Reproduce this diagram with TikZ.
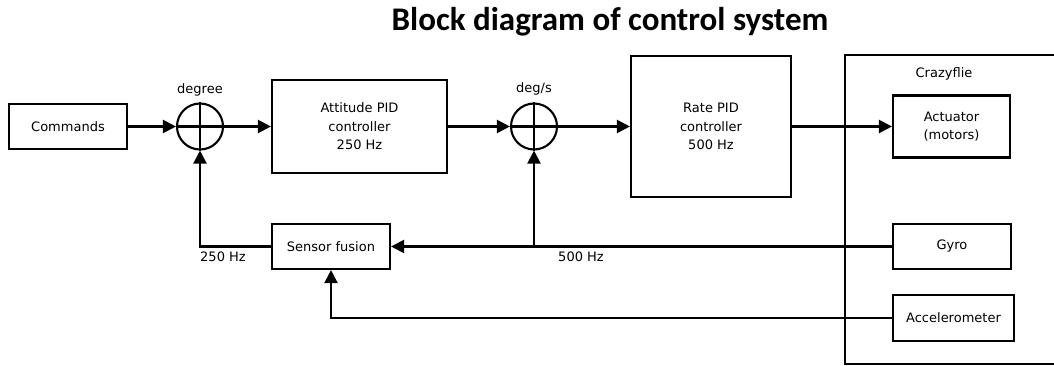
\documentclass[tikz,border=0pt]{standalone}
\usepackage{fontspec}
\setmainfont{DejaVu Sans}
\newfontfamily\titlefont{Carlito}
\usetikzlibrary{arrows.meta,positioning,calc}

\begin{document}
\begin{tikzpicture}[
  x=1pt,y=-1pt,
  font=\fontsize{13}{18.5}\selectfont,
  block/.style={draw,line width=2.1pt,align=center,inner sep=0pt},
  summer/.style={draw,circle,line width=2.1pt,minimum size=46pt,inner sep=0pt},
  fl/.style={-{Triangle[length=13pt,width=13pt]},line width=2.1pt},
  ln/.style={line width=2.1pt}
]
\useasboundingbox (0,0) rectangle (1054,366);
\node[font=\titlefont\fontsize{33}{35}\selectfont\bfseries] (title) at (610,22) {Block diagram of control system};

\node[block,minimum width=118pt,minimum height=45pt] (cmd) at (68,126.5) {Commands};
\node[summer] (s1) at (200,126.5) {};
\node (deg) at (200,90) {degree};
\node[block,minimum width=175pt,minimum height=93pt] (att) at (359.5,126.5) {Attitude PID\\controller\\250 Hz};
\node[summer] (s2) at (534,126.5) {};
\node (degs) at (534,89) {deg/s};
\node[block,minimum width=160pt,minimum height=141pt] (rate) at (711,126.5) {Rate PID\\controller\\500 Hz};

\draw[ln] (1060,55) -| (845,364) -- (1060,364);
\node (cf) at (944,74) {Crazyflie};
\node[block,minimum width=117pt,minimum height=62pt] (act) at (951.5,126.5) {Actuator\\(motors)};
\node[block,minimum width=118pt,minimum height=45pt] (gyro) at (952,246.5) {Gyro};
\node[block,minimum width=121pt,minimum height=46pt] (acc) at (953.5,318) {Accelerometer};
\node[block,minimum width=118pt,minimum height=45pt] (sf) at (331,246.5) {Sensor fusion};

\draw[ln] (s1.north) -- (s1.south) (s1.west) -- (s1.east);
\draw[ln] (s2.north) -- (s2.south) (s2.west) -- (s2.east);

\draw[fl] (cmd) -- (s1);
\draw[fl] (s1) -- (att);
\draw[fl] (att) -- (s2);
\draw[fl] (s2) -- (rate);
\draw[fl] (rate) -- (act);
\draw[fl] (gyro) -- (sf);
\coordinate (tap) at (s2 |- gyro);
\draw[fl] (tap) -- (s2);
\draw[fl] (acc) -| (sf);
\draw[fl] (sf) -| (s1);

\node (f250) at (223,257) {250 Hz};
\node (f500) at (581,257) {500 Hz};
\end{tikzpicture}
\end{document}
